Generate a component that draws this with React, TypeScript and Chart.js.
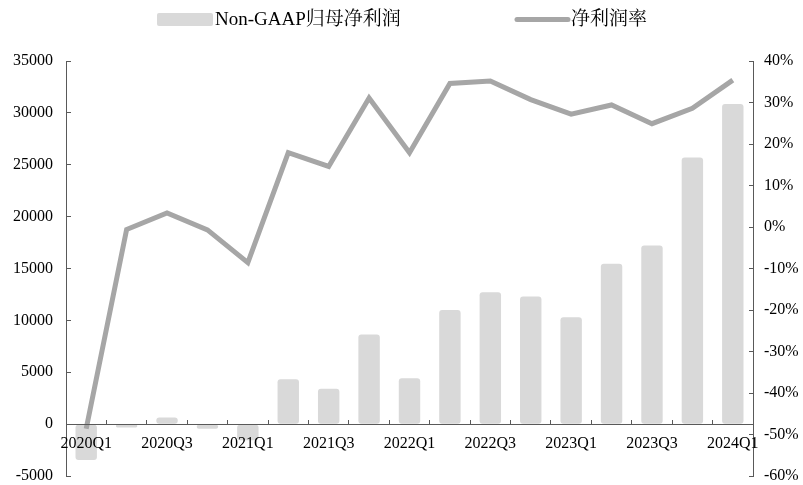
import React, { useEffect, useRef } from 'react';
import { Chart, registerables } from 'chart.js';

Chart.register(...registerables);

const categories = [
  '2020Q1', '2020Q2', '2020Q3', '2020Q4',
  '2021Q1', '2021Q2', '2021Q3', '2021Q4',
  '2022Q1', '2022Q2', '2022Q3', '2022Q4',
  '2023Q1', '2023Q2', '2023Q3', '2023Q4',
  '2024Q1',
];

const profitLabel = 'Non-GAAP归母净利润';
const marginLabel = '净利润率';

const profitValues = [
  -3450, -320, 650, -450,
  -1550, 4330, 3400, 8650,
  4420, 11000, 12700, 12300,
  10300, 15450, 17220, 25700,
  30850,
];

const marginValues = [
  -48.6, -0.6, 3.4, -0.7,
  -8.6, 17.9, 14.6, 31.1,
  17.9, 34.6, 35.2, 30.7,
  27.2, 29.4, 24.9, 28.6,
  35.4,
];

const leftMin = -5000;
const leftMax = 35000;
const leftStep = 5000;
const rightMin = -60;
const rightMax = 40;
const rightStep = 10;

const BAR_COLOR = '#d9d9d9';
const LINE_COLOR = '#a6a6a6';
const AXIS_COLOR = '#595959';
const FONT_FAMILY = '"Liberation Serif", "Times New Roman", "Noto Serif CJK SC", "Noto Sans CJK SC", serif';

const legendPlugin = {
  id: 'customLegend',
  afterDraw(chart: any) {
    const ctx = chart.ctx as CanvasRenderingContext2D;
    const ds = chart.data.datasets;
    ctx.save();
    ctx.font = `19px ${FONT_FAMILY}`;
    ctx.textBaseline = 'middle';
    ctx.textAlign = 'left';
    ctx.fillStyle = ds[0].backgroundColor;
    ctx.beginPath();
    (ctx as any).roundRect(157, 13, 56, 13, 2);
    ctx.fill();
    ctx.fillStyle = '#000';
    ctx.fillText(ds[0].label, 215, 20);
    ctx.strokeStyle = ds[1].borderColor;
    ctx.lineWidth = 5;
    ctx.lineCap = 'round';
    ctx.beginPath();
    ctx.moveTo(517, 19.5);
    ctx.lineTo(568, 19.5);
    ctx.stroke();
    ctx.fillStyle = '#000';
    ctx.fillText(ds[1].label, 571, 20);
    ctx.restore();
  },
};

export default function App() {
  const canvasRef = useRef<HTMLCanvasElement | null>(null);

  useEffect(() => {
    if (!canvasRef.current) return;
    const tickFont = { family: FONT_FAMILY, size: 16 };
    const chart = new Chart(canvasRef.current, {
      type: 'bar',
      data: {
        labels: categories,
        datasets: [
          {
            type: 'bar',
            label: profitLabel,
            data: profitValues,
            backgroundColor: BAR_COLOR,
            borderWidth: 0,
            borderRadius: 3,
            borderSkipped: false,
            barPercentage: 0.53,
            categoryPercentage: 1,
            yAxisID: 'y',
            order: 1,
          } as any,
          {
            type: 'line',
            label: marginLabel,
            data: marginValues,
            borderColor: LINE_COLOR,
            backgroundColor: LINE_COLOR,
            borderWidth: 5,
            pointRadius: 0,
            tension: 0,
            borderJoinStyle: 'miter',
            yAxisID: 'y1',
            order: 0,
          } as any,
        ],
      },
      options: {
        animation: false,
        responsive: false,
        maintainAspectRatio: false,
        layout: { padding: { top: 61, bottom: 9, left: 0, right: 0 } },
        plugins: {
          legend: { display: false },
          tooltip: { enabled: false },
        },
        scales: {
          x: {
            type: 'category',
            position: { y: 0 } as any,
            offset: true,
            grid: {
              offset: true,
              drawOnChartArea: false,
              drawTicks: true,
              tickLength: -5,
              color: AXIS_COLOR,
              z: 1,
            },
            border: { color: AXIS_COLOR, width: 1, z: 1 },
            ticks: {
              autoSkip: false,
              maxRotation: 0,
              minRotation: 0,
              padding: 15,
              color: '#000',
              font: tickFont,
              z: 1,
              callback: (_v: any, i: number) => (i % 2 === 0 ? categories[i] : ''),
            },
            afterFit: (s: any) => { s.height = 0; s.paddingLeft = 0; s.paddingRight = 0; },
          },
          y: {
            position: 'left',
            min: leftMin,
            max: leftMax,
            grid: { drawOnChartArea: false, tickLength: -5, color: AXIS_COLOR },
            border: { color: AXIS_COLOR, width: 1 },
            ticks: {
              stepSize: leftStep,
              padding: 18,
              color: '#000',
              font: tickFont,
              callback: (v: any) => `${v}`,
            },
            afterFit: (s: any) => { s.width = 66; s.paddingTop = 0; s.paddingBottom = 0; },
          },
          y1: {
            position: 'right',
            min: rightMin,
            max: rightMax,
            grid: { drawOnChartArea: false, tickLength: -4, color: AXIS_COLOR },
            border: { color: AXIS_COLOR, width: 1 },
            ticks: {
              stepSize: rightStep,
              padding: 15,
              color: '#000',
              font: tickFont,
              callback: (v: any) => `${v}%`,
            },
            afterFit: (s: any) => { s.width = 50; s.paddingTop = 0; s.paddingBottom = 0; },
          },
        },
      } as any,
      plugins: [legendPlugin],
    });
    return () => chart.destroy();
  }, []);

  return (
    <div style={{ position: 'absolute', left: 0, top: 0, width: 803, height: 485 }}>
      <canvas ref={canvasRef} width={803} height={485} />
    </div>
  );
}
